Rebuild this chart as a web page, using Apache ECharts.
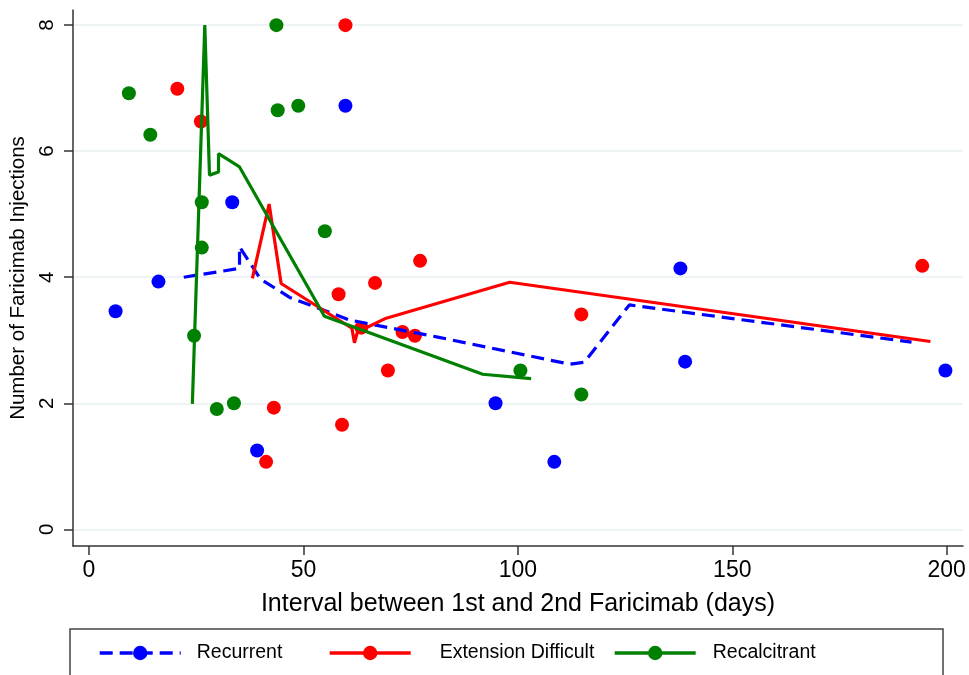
<!DOCTYPE html>
<html>
<head>
<meta charset="utf-8">
<title>Faricimab injections vs interval</title>
<script src="https://cdn.jsdelivr.net/npm/echarts@6.0.0/dist/echarts.min.js"></script>
<style>
  html, body { margin: 0; padding: 0; background: #fff; }
  #chart { width: 969px; height: 675px; }
</style>
</head>
<body>
<div id="chart"></div>
<script>
// scatter points (x = days, y = injections)
const recurrentX = [6.2, 16.2, 33.4, 39.2, 59.8, 94.8, 108.5, 137.9, 139.0, 199.7];
const recurrentY = [3.46, 3.93, 5.19, 1.25, 6.72, 2.00, 1.07, 4.14, 2.66, 2.52];

const extensionX = [20.6, 26.1, 41.3, 43.1, 58.2, 59.0, 59.8, 63.5, 66.7, 69.7, 73.1, 76.0, 77.2, 114.8, 194.3];
const extensionY = [6.99, 6.47, 1.07, 1.93, 3.73, 1.66, 8.00, 3.20, 3.91, 2.52, 3.13, 3.07, 4.26, 3.41, 4.18];

const recalcitrantX = [9.3, 14.3, 24.5, 26.3, 26.3, 29.8, 33.8, 43.7, 44.0, 48.8, 55.0, 100.6, 114.8];
const recalcitrantY = [6.92, 6.26, 3.07, 5.19, 4.47, 1.91, 2.00, 8.00, 6.65, 6.72, 4.73, 2.52, 2.14];

// smoothed lines (vertices as drawn)
const recurrentFitX = [22.1, 35.1, 35.1, 40.0, 46.8, 60.8, 81.3, 112.1, 115.5, 126.0, 191.8];
const recurrentFitY = [4.00, 4.14, 4.48, 3.97, 3.68, 3.32, 3.05, 2.62, 2.65, 3.56, 2.97];

const extensionFitX = [38.1, 42.0, 44.8, 61.3, 61.9, 62.6, 69.3, 98.1, 196.2];
const extensionFitY = [3.98, 5.16, 3.90, 3.19, 2.96, 3.13, 3.35, 3.92, 2.98];

const recalcitrantFitX = [24.1, 27.0, 28.1, 30.2, 30.2, 35.1, 54.9, 91.8, 103.1];
const recalcitrantFitY = [1.99, 8.00, 5.62, 5.67, 5.96, 5.75, 3.38, 2.46, 2.39];

const xTicks = [0, 50, 100, 150, 200];
const yTicks = [0, 2, 4, 6, 8];

const names = ['Recurrent', 'Extension Difficult', 'Recalcitrant'];
const colors = ['#0000ff', '#ff0000', '#008000'];

const FONT = 'Liberation Sans, Arial, Helvetica, sans-serif';

function zip(xs, ys) {
  return xs.map((x, i) => [x, ys[i]]);
}

function fitLine(i, xs, ys, dashed) {
  return {
    name: names[i],
    type: 'line',
    z: 3,
    data: zip(xs, ys),
    symbol: 'circle',
    symbolSize: 14,
    showSymbol: false,
    clip: false,
    itemStyle: { color: colors[i] },
    lineStyle: {
      color: colors[i],
      width: 3.2,
      type: dashed ? [13, 7] : 'solid'
    }
  };
}

function dots(i, xs, ys) {
  return {
    name: names[i],
    type: 'scatter',
    z: 2,
    data: zip(xs, ys),
    symbol: 'circle',
    symbolSize: 14,
    clip: false,
    itemStyle: { color: colors[i], opacity: 1 }
  };
}

function legendAt(i, left, pad, dashed) {
  return {
    data: [names[i]],
    left: left,
    top: 643,
    itemWidth: 81,
    itemHeight: 18,
    padding: 0,
    lineStyle: { width: 3.4, type: dashed ? [13, 7] : 'solid' },
    textStyle: {
      fontFamily: FONT,
      fontSize: 19.5,
      color: '#000',
      padding: [0, 0, 0, pad]
    }
  };
}

let myChart = echarts.init(document.getElementById('chart'));

let option = {
  animation: false,
  backgroundColor: '#fff',
  grid: {
    left: 73,
    right: 6,
    top: 10,
    bottom: 129,
    outerBoundsMode: 'none'
  },
  legend: [
    legendAt(0, 98, 11, true),
    legendAt(1, 328, 24, false),
    legendAt(2, 613, 12, false)
  ],
  graphic: [
    {
      type: 'rect',
      shape: { x: 70, y: 629, width: 873, height: 70 },
      style: { fill: 'none', stroke: '#444', lineWidth: 1.5 },
      silent: true
    }
  ],
  xAxis: {
    type: 'value',
    min: -3.73,
    max: 203.8,
    name: 'Interval between 1st and 2nd Faricimab (days)',
    nameLocation: 'middle',
    nameGap: 46,
    nameTextStyle: { fontFamily: FONT, fontSize: 25, color: '#000' },
    axisLine: { onZero: false, lineStyle: { color: '#333', width: 1.5 } },
    axisTick: { customValues: xTicks, length: 9, lineStyle: { color: '#333', width: 1.5 } },
    axisLabel: {
      customValues: xTicks,
      margin: 13,
      fontFamily: FONT,
      fontSize: 23,
      color: '#000'
    },
    splitLine: { show: false }
  },
  yAxis: {
    type: 'value',
    min: -0.265,
    max: 8.24,
    name: 'Number of Faricimab Injections',
    nameLocation: 'middle',
    nameGap: 42,
    nameTextStyle: { fontFamily: FONT, fontSize: 20.5, color: '#000' },
    axisLine: { show: true, onZero: false, lineStyle: { color: '#333', width: 1.5 } },
    axisTick: { show: true, customValues: yTicks, length: 9, lineStyle: { color: '#333', width: 1.5 } },
    axisLabel: {
      customValues: yTicks,
      rotate: 90,
      margin: 15,
      fontFamily: FONT,
      fontSize: 20.5,
      color: '#000'
    },
    splitLine: { show: true, lineStyle: { color: '#e9f0f3', width: 1.5 } }
  },
  series: [
    fitLine(0, recurrentFitX, recurrentFitY, true),
    fitLine(1, extensionFitX, extensionFitY, false),
    fitLine(2, recalcitrantFitX, recalcitrantFitY, false),
    dots(0, recurrentX, recurrentY),
    dots(1, extensionX, extensionY),
    dots(2, recalcitrantX, recalcitrantY)
  ]
};

myChart.setOption(option);
</script>
</body>
</html>
